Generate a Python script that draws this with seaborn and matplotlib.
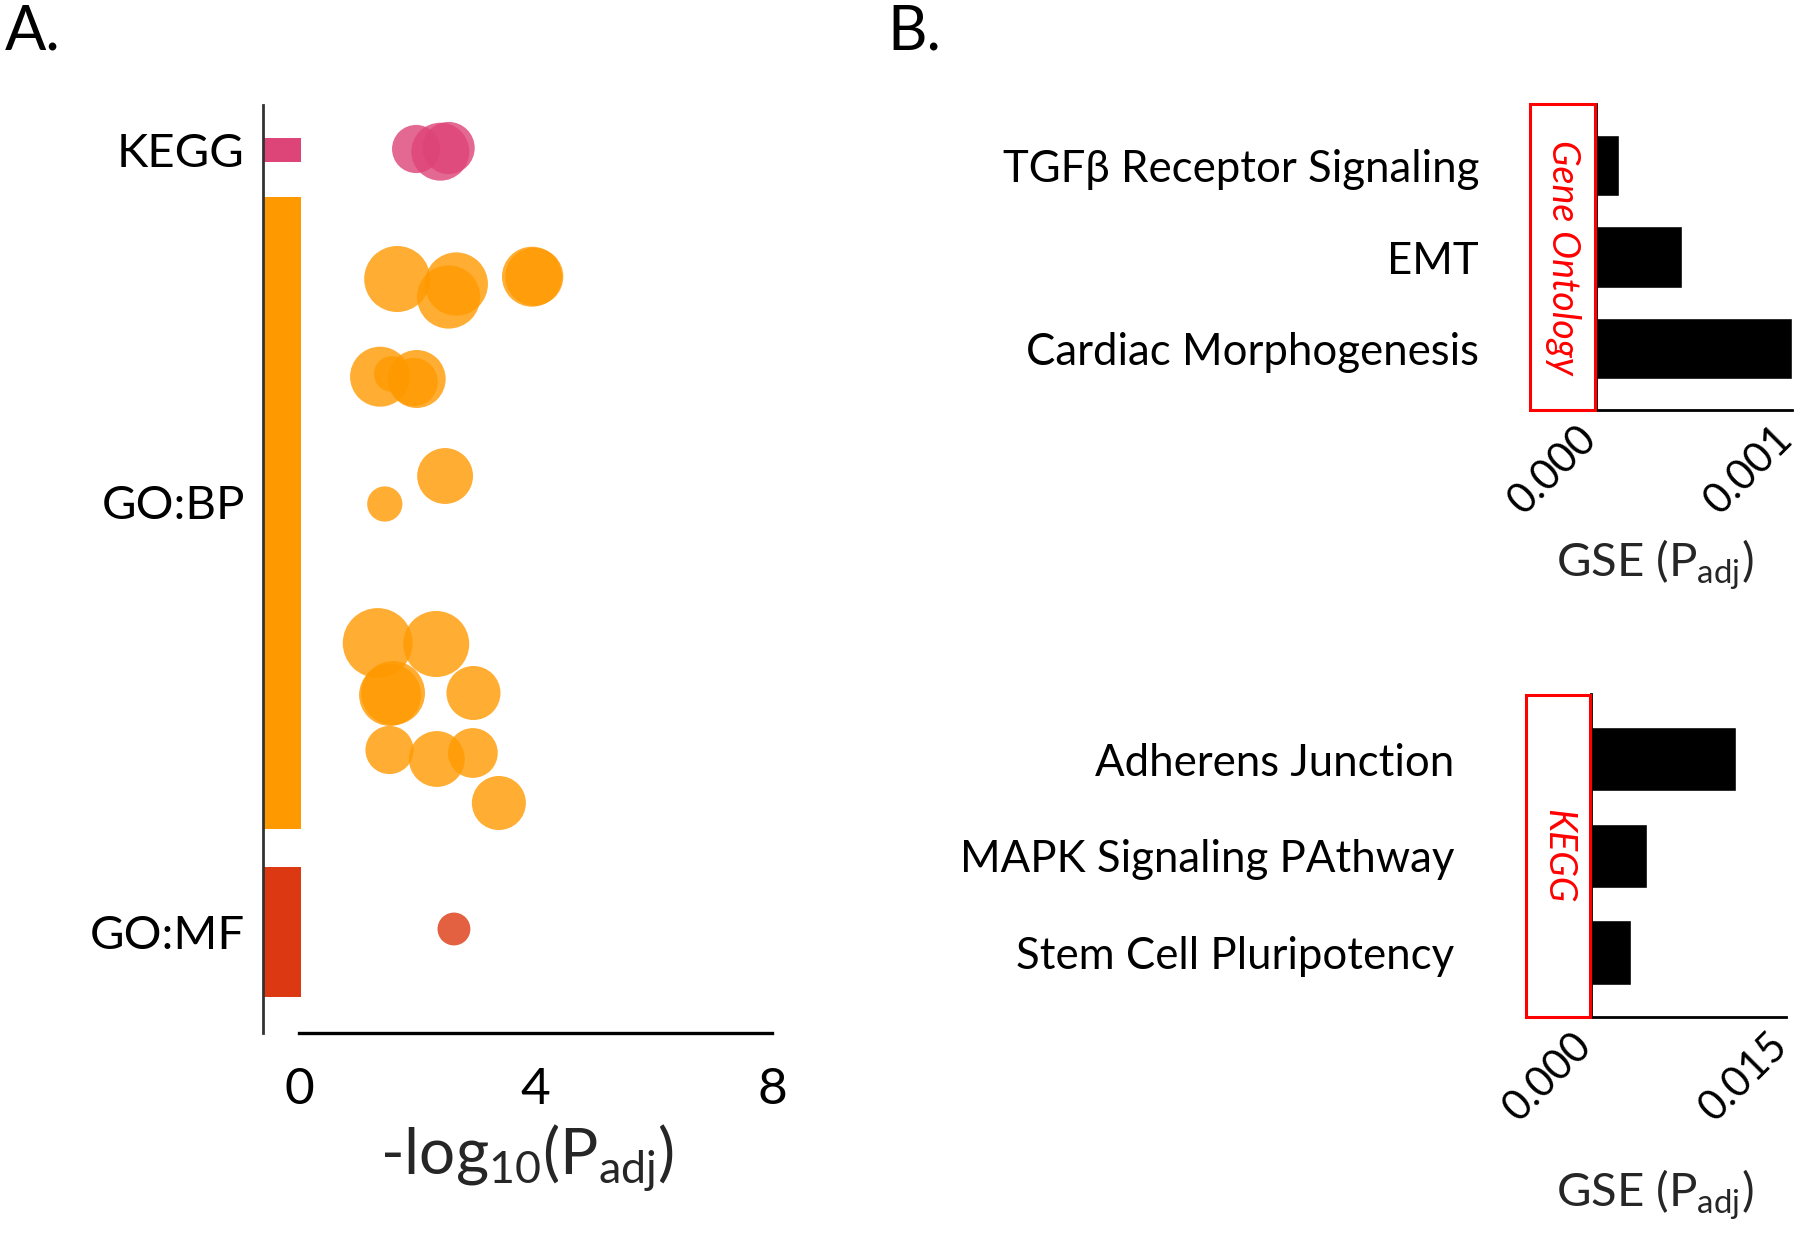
import numpy as np
import pandas as pd
import matplotlib
matplotlib.use("Agg")
import matplotlib.pyplot as plt
import matplotlib.transforms as mtransforms
from matplotlib.patches import Rectangle
import seaborn as sns

# ---------------- Panel A data ----------------
sources = ["KEGG", "GO:BP", "GO:MF"]
source_colors = ["#DD4477", "#FF9900", "#DC3912"]
# vertical band (category strip) extents, in row units
band_top = [0.327, 0.917, 7.617]
band_bottom = [0.567, 7.240, 8.917]
source_tick_pos = [0.45, 3.97, 8.27]

term_source = (["KEGG"] * 3 + ["GO:BP"] * 20 + ["GO:MF"])
term_logp = [1.98, 2.39, 2.53,
             1.66, 2.66, 2.53, 3.94, 3.98,
             1.37, 1.57, 1.99, 1.94,
             2.47, 1.45,
             1.33, 2.32, 1.59, 1.54, 2.95,
             1.53, 2.33, 2.94, 3.38,
             2.62]
term_row = [0.44, 0.467, 0.43,
            1.74, 1.79, 1.92, 1.717, 1.717,
            2.717, 2.69, 2.74, 2.77,
            3.71, 3.99,
            5.38, 5.39, 5.88, 5.90, 5.88,
            6.45, 6.54, 6.48, 6.98,
            8.24]
term_genes = [58, 84, 68,
              109, 100, 100, 90, 84,
              90, 32, 84, 58,
              78, 31,
              122, 109, 102, 96, 73,
              58, 78, 62, 73,
              27]

# ---------------- Panel B data ----------------
go_terms = ["TGF\u03b2 Receptor Signaling", "EMT", "Cardiac Morphogenesis"]
go_padj = [0.000119, 0.00044, 0.00100]
kegg_terms = ["Adherens Junction", "MAPK Signaling PAthway", "Stem Cell Pluripotency"]
kegg_padj = [0.01114, 0.00435, 0.00313]

# ---------------- style ----------------
sns.set_style("white")
plt.rcParams["font.family"] = ["Lato", "DejaVu Sans"]
plt.rcParams["mathtext.fontset"] = "custom"
plt.rcParams["mathtext.rm"] = "Lato"
plt.rcParams["mathtext.it"] = "Lato:italic"
plt.rcParams["mathtext.bf"] = "Lato:bold"
plt.rcParams["text.color"] = "black"
plt.rcParams["xtick.color"] = "black"
plt.rcParams["ytick.color"] = "black"
plt.rcParams["xtick.labelcolor"] = "black"
plt.rcParams["ytick.labelcolor"] = "black"

W, H = 1800, 1238
fig = plt.figure(figsize=(W / 100, H / 100), dpi=100)

def px_axes(left, top, right, bottom):
    return fig.add_axes([left / W, 1 - bottom / H, (right - left) / W, (bottom - top) / H])

# ---------------- Panel A ----------------
axA = px_axes(263, 105, 772, 1033)
x_left = -0.61
for c, t, b, col in zip(sources, band_top, band_bottom, source_colors):
    axA.barh(y=(t + b) / 2, width=0.64, left=x_left, height=(b - t), color=col, linewidth=0)

df = pd.DataFrame({"source": term_source, "logp": term_logp,
                   "row": term_row, "genes": term_genes})
k = 20.736  # area per gene unit (pt^2)
gmin, gmax = min(term_genes), max(term_genes)
sns.scatterplot(data=df, x="logp", y="row", hue="source",
                palette=dict(zip(sources, source_colors)),
                size="genes", sizes=(gmin * k, gmax * k), size_norm=(gmin, gmax),
                alpha=0.8, linewidth=0, legend=False, ax=axA, zorder=3)

axA.set_xlim(x_left, 8.0)
axA.set_ylim(9.28, 0)
axA.set_yticks(source_tick_pos)
axA.set_yticklabels(sources, fontsize=34)
axA.set_xticks([0, 2, 4, 6, 8])
axA.set_xticklabels(["0", "", "4", "", "8"], fontsize=37)
axA.tick_params(axis="y", length=0, pad=13)
axA.tick_params(axis="x", length=10.8, width=2.5, pad=14, color="black")
for s in ["top", "right"]:
    axA.spines[s].set_visible(False)
axA.spines["left"].set_color("#333333")
axA.spines["left"].set_linewidth(2.0)
axA.spines["bottom"].set_color("black")
axA.spines["bottom"].set_linewidth(2.4)
axA.spines["bottom"].set_bounds(0, 8)
axA.set_ylabel("")
axA.set_xlabel(r"-log$_{10}$(P$_{\mathrm{adj}}$)", fontsize=46)
axA.xaxis.label.set_va("baseline")
axA.xaxis.set_label_coords(0.519, -0.152)

# ---------------- Panel B ----------------
def bar_panel(ax, terms, vals, xmax, xticklabels, box_left_frac, box_label,
              label_pad, xlab_x, xlab_y):
    d = pd.DataFrame({"term": terms, "padj": vals})
    sns.barplot(data=d, x="padj", y="term", orient="h", color="black",
                width=0.667, saturation=1, ax=ax)
    ax.set_xlim(0, xmax)
    ax.set_ylim(2.67, -0.67)
    ax.set_xticks([0, xmax])
    ax.set_xticklabels(xticklabels, fontsize=30, rotation=45, ha="right",
                       va="center", rotation_mode="anchor")
    ax.tick_params(axis="x", length=0, pad=16)
    shift = mtransforms.ScaledTranslation(-5 / 100, 0, fig.dpi_scale_trans)
    for lab in ax.get_xticklabels():
        lab.set_transform(lab.get_transform() + shift)
    ax.tick_params(axis="y", length=0, pad=label_pad, labelsize=31.5)
    for s in ["top", "right"]:
        ax.spines[s].set_visible(False)
    for s in ["left", "bottom"]:
        ax.spines[s].set_color("black")
        ax.spines[s].set_linewidth(2.0)
    ax.set_ylabel("")
    ax.set_xlabel(r"GSE (P$_{\mathrm{adj}}$)", fontsize=34)
    ax.xaxis.label.set_va("baseline")
    ax.xaxis.set_label_coords(xlab_x, xlab_y)
    rect = Rectangle((box_left_frac, 0), -box_left_frac - 0.006, 1.0,
                     transform=ax.transAxes, fill=False, edgecolor="#FF0000",
                     linewidth=2.2, clip_on=False, zorder=5)
    ax.add_patch(rect)
    trans = mtransforms.blended_transform_factory(ax.transAxes, ax.transData)
    ax.text(box_left_frac / 2, 1, box_label, transform=trans, rotation=-90,
            ha="center", va="center", color="#FF0000", fontsize=27,
            fontstyle="italic")

axB1 = px_axes(1595.7, 104, 1791.7, 410)
bar_panel(axB1, go_terms, go_padj, 0.001, ["0.000", "0.001"], -0.335,
          "Gene Ontology", 84, 0.30, -0.546)

axB2 = px_axes(1590.7, 694.5, 1786, 1017)
bar_panel(axB2, kegg_terms, kegg_padj, 0.015, ["0.000", "0.015"], -0.333,
          "KEGG", 98, 0.33, -0.589)

# panel letters
fig.text(5 / W, 1 - 49 / H, "A.", fontsize=44, va="baseline", ha="left")
fig.text(887 / W, 1 - 50 / H, "B.", fontsize=44, va="baseline", ha="left")

fig.savefig("out.png", dpi=100)
